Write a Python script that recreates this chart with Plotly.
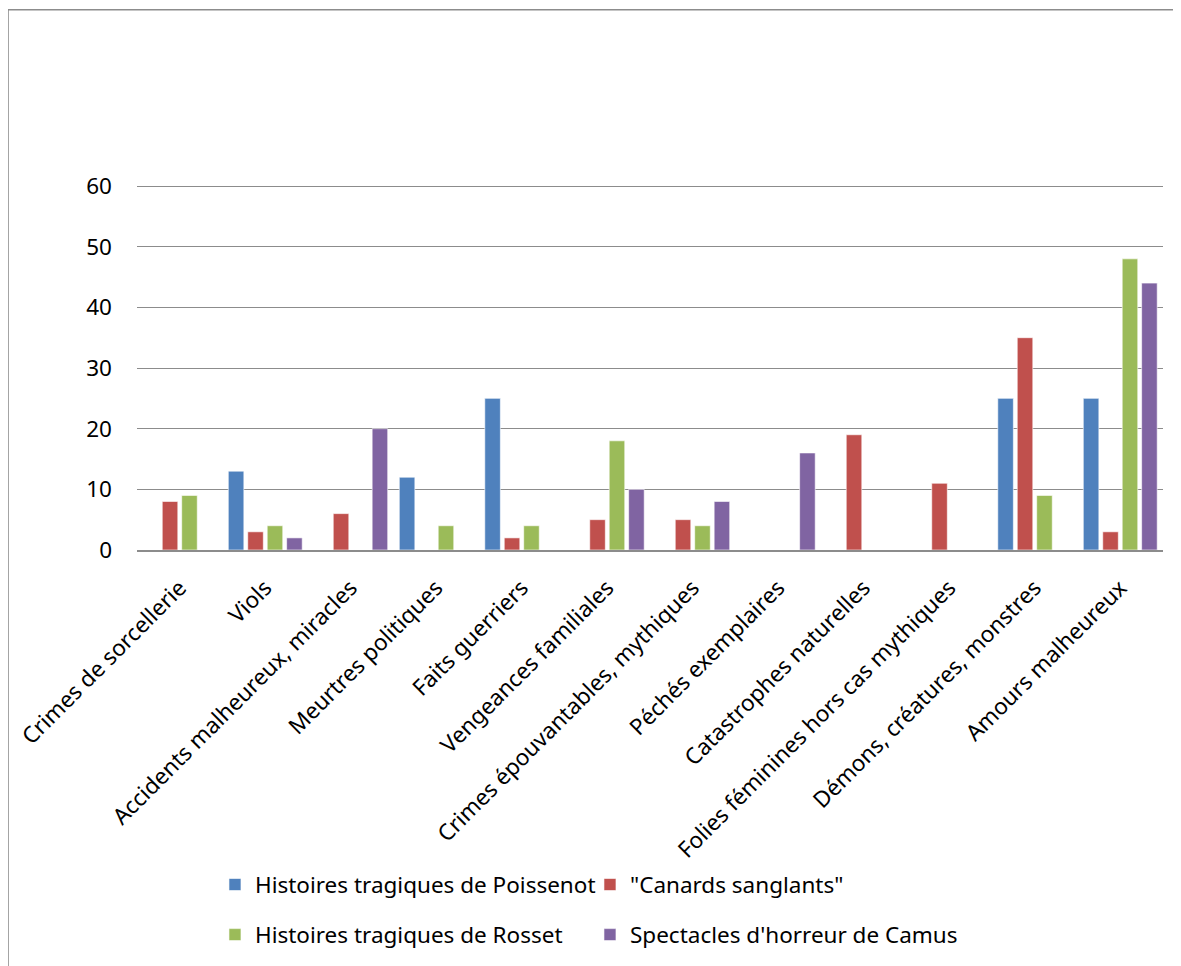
import plotly.graph_objects as go

categories = [
    "Crimes de sorcellerie", "Viols", "Accidents malheureux, miracles",
    "Meurtres politiques", "Faits guerriers", "Vengeances familiales",
    "Crimes épouvantables, mythiques", "Péchés exemplaires",
    "Catastrophes naturelles", "Folies féminines hors cas mythiques",
    "Démons, créatures, monstres", "Amours malheureux",
]
poissenot = [0, 13, 0, 12, 25, 0, 0, 0, 0, 0, 25, 25]
canards = [8, 3, 6, 0, 2, 5, 5, 0, 19, 11, 35, 3]
rosset = [9, 4, 0, 4, 4, 18, 4, 0, 0, 0, 9, 48]
camus = [0, 2, 20, 0, 0, 10, 8, 16, 0, 0, 0, 44]

series = [
    ("Histoires tragiques de Poissenot", poissenot, "#4f81bd", "legend"),
    ('"Canards sanglants"', canards, "#c0504d", "legend"),
    ("Histoires tragiques de Rosset", rosset, "#9bbb59", "legend2"),
    ("Spectacles d'horreur de Camus", camus, "#8064a2", "legend2"),
]

FONT = "Noto Sans"
SIZE = 22.5

fig = go.Figure()
for name, vals, color, leg in series:
    fig.add_bar(
        name=name, x=categories, y=vals,
        marker=dict(color=color, line=dict(color="white", width=0.6)),
        legend=leg,
    )

# the page body adds an 8px margin, so the figure is drawn 8px smaller.
# y range runs to 61 so the gridline at 60 is drawn inside the plot area
legend_common = dict(
    orientation="h", xanchor="left", yanchor="middle",
    entrywidth=330, entrywidthmode="pixels",
    font=dict(family=FONT, size=SIZE), tracegroupgap=0,
)
fig.update_layout(
    width=1173, height=958,
    margin=dict(l=129, r=18, t=172, b=415),
    paper_bgcolor="white", plot_bgcolor="white",
    barmode="group", bargap=0.09, bargroupgap=0.2,
    font=dict(family=FONT, size=SIZE, color="black"),
    showlegend=True,
    legend=dict(x=0.076, y=-0.9, **legend_common),
    legend2=dict(x=0.076, y=-1.035, **legend_common),
    shapes=[dict(
        type="rect", xref="paper", yref="paper",
        x0=-0.1257, x1=1.0117, y0=-1.2, y1=1.46,
        line=dict(color="#8c8c8c", width=1.5), fillcolor="rgba(0,0,0,0)",
        layer="below",
    )],
)

fig.update_xaxes(
    tickangle=-45, showgrid=False, showline=True, automargin=False,
    linecolor="#8c8c8c", linewidth=1.5,
    ticks="", ticklabelstandoff=14, tickfont=dict(family=FONT, size=SIZE),
)
fig.update_yaxes(
    range=[0, 61], dtick=10, showgrid=True, automargin=False,
    gridcolor="#8c8c8c", gridwidth=1.2, zeroline=False,
    showline=False, ticks="", ticklabelstandoff=24,
    tickfont=dict(family=FONT, size=SIZE),
)

fig.write_html("out.html")
